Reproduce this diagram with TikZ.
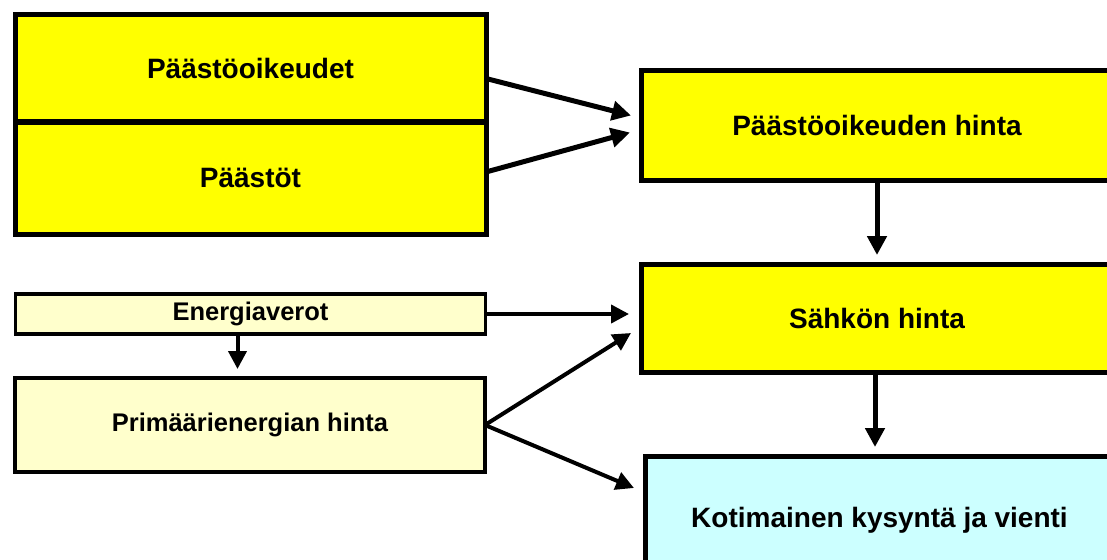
\documentclass[tikz,border=0pt]{standalone}
\usepackage{fontspec}
\setmainfont{Liberation Sans}
\usetikzlibrary{arrows.meta}
\definecolor{boxyellow}{RGB}{255,255,0}
\definecolor{paleyellow}{RGB}{255,255,204}
\definecolor{palecyan}{RGB}{204,255,255}
\begin{document}
\begin{tikzpicture}[x=1pt, y=-1pt,
  bigbox/.style={draw, line width=5pt, fill=boxyellow, outer sep=0pt,
    font=\bfseries\fontsize{28}{32}\selectfont},
  smallbox/.style={draw, line width=3.5pt, fill=paleyellow, outer sep=0pt,
    font=\bfseries\fontsize{25.5}{30}\selectfont},
  arr/.style={line width=5pt, -{Triangle[length=19pt, width=19pt]}},
  thinarr/.style={line width=4pt, -{Triangle[length=18pt, width=18pt]}}]
  \useasboundingbox (0,0) rectangle (1107,559);

  % left column
  \node[bigbox, minimum width=471pt, minimum height=107pt] (oikeudet) at (250.5,68.5) {Päästöoikeudet};
  \node[bigbox, minimum width=471pt, minimum height=112pt] (paastot) at (250.5,178) {Päästöt};
  \node[smallbox, minimum width=470pt, minimum height=40pt] (verot) at (250.5,314) {Energiaverot};
  \node[smallbox, minimum width=470pt, minimum height=94pt] (primaari) at (250,425) {Primäärienergian hinta};

  % right column
  \node[bigbox, minimum width=472pt, minimum height=109pt] (oikhinta) at (877,125.5) {Päästöoikeuden hinta};
  \node[bigbox, minimum width=472pt, minimum height=108pt] (sahko) at (877,318) {Sähkön hinta};
  \node[bigbox, fill=palecyan, minimum width=469pt, minimum height=128pt] (kysynta) at (879.5,520) {Kotimainen kysyntä ja vienti};

  % arrows into the price of allowances
  \draw[arr] ([yshift=-10pt]oikeudet.east) -- ([xshift=-10pt, yshift=10pt]oikhinta.west);
  \draw[arr] ([yshift=6pt]paastot.east) -- ([xshift=-11pt, yshift=-7pt]oikhinta.west);

  % down the right column
  \draw[arr] (oikhinta.south) -- ([yshift=9pt]oikhinta.south |- sahko.north);
  \draw[arr] ([xshift=-2pt]sahko.south) -- ([xshift=-2pt, yshift=9pt]sahko.south |- kysynta.north);

  % energy taxes and primary energy
  \draw[thinarr] ([xshift=-13pt]verot.south) -- ([xshift=-13pt, yshift=9pt]verot.south |- primaari.north);
  \draw[thinarr] (verot.east) -- ([xshift=-12pt]verot.east -| sahko.west);
  \draw[thinarr] (primaari.east) -- ([xshift=-10pt, yshift=-15pt]sahko.west);
  \draw[thinarr] (primaari.east) -- ([xshift=-11pt, yshift=32pt]kysynta.west);

\end{tikzpicture}
\end{document}
